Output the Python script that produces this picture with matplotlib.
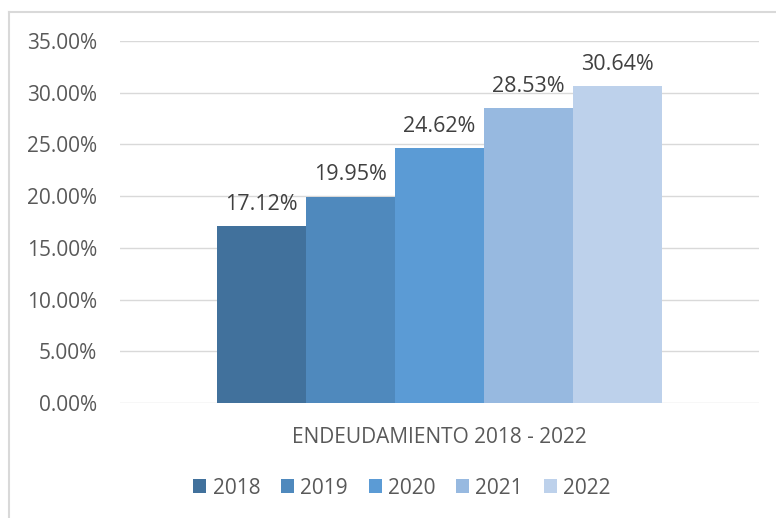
import matplotlib.pyplot as plt
from matplotlib.lines import Line2D
from matplotlib.ticker import FuncFormatter

# data
years = ["2018", "2019", "2020", "2021", "2022"]
values = [17.12, 19.95, 24.62, 28.53, 30.64]
colors = ["#41719C", "#4F89BD", "#5B9BD5", "#97B9E0", "#BDD1EB"]
category = "ENDEUDAMIENTO 2018 - 2022"

txt = "#595959"
plt.rcParams["font.family"] = ["Open Sans", "DejaVu Sans"]

fig = plt.figure(figsize=(7.76, 5.18), dpi=100)
ax = fig.add_axes([120 / 776, 1 - 403 / 518, 639 / 776, 362 / 518])

bw = 445 / 639 / 5
n = len(years)
for i, (yr, v, c) in enumerate(zip(years, values, colors)):
    x = (i - (n - 1) / 2) * bw
    ax.bar(x, v, width=bw, color=c, label=yr, zorder=3)
    ax.text(x, v + 1.1, f"{v:.2f}%", ha="center", va="bottom",
            fontsize=15.5, color="#404040", zorder=4)

ax.set_xlim(-0.5, 0.5)
ax.set_ylim(0, 35)
ax.set_yticks(range(0, 36, 5))
ax.yaxis.set_major_formatter(FuncFormatter(lambda v, p: f"{v:.2f}%"))
ax.set_xticks([0])
ax.set_xticklabels([category])
ax.tick_params(axis="both", length=0, labelsize=15, labelcolor=txt)
ax.tick_params(axis="x", pad=17)
ax.tick_params(axis="y", pad=16.5)
ax.grid(axis="y", color="#D9D9D9", lw=1, zorder=0)
for s in ax.spines.values():
    s.set_visible(False)

fig.legend(loc="center", bbox_to_anchor=(402 / 776, 1 - 488 / 518), ncol=5,
           frameon=False, fontsize=15, labelcolor=txt, handlelength=0.62,
           handleheight=0.62, handletextpad=0.3, columnspacing=1.0)

# chart border (left and top edges visible)
fig.add_artist(Line2D([8.5 / 776, 8.5 / 776], [0, 1 - 11.5 / 518],
                      transform=fig.transFigure, color="#D9D9D9", lw=1.5))
fig.add_artist(Line2D([8.5 / 776, 1], [1 - 11.5 / 518, 1 - 11.5 / 518],
                      transform=fig.transFigure, color="#D9D9D9", lw=1.5))

fig.savefig("out.png", dpi=100)
